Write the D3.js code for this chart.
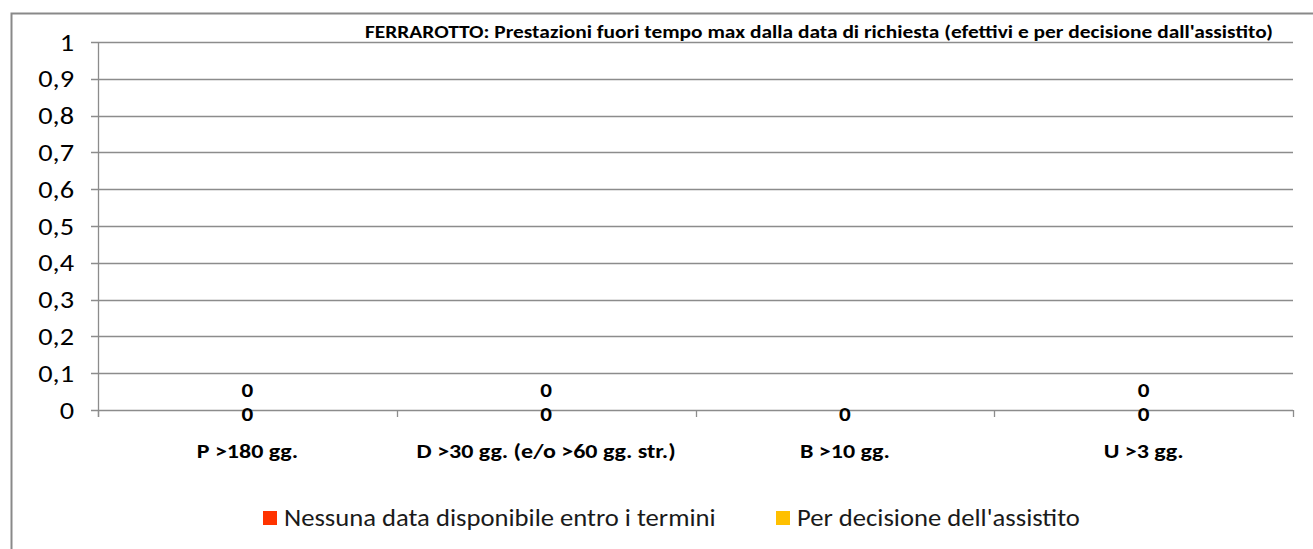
<!DOCTYPE html>
<html>
<head>
<meta charset="utf-8">
<script src="https://d3js.org/d3.v7.min.js"></script>
<style>
  body { margin: 0; background: #fff; }
  svg { display: block; font-family: Carlito, Lato, "Open Sans", sans-serif; }
</style>
</head>
<body>
<svg id="chart" width="1313" height="549"></svg>
<script>
// data
var categories = ["P >180 gg.", "D >30 gg. (e/o >60 gg. str.)", "B >10 gg.", "U >3 gg."];
var seriesNames = ["Nessuna data disponibile entro i termini", "Per decisione dell'assistito"];
var seriesColors = ["#ff3300", "#ffc000"];
var nessunaData = [0, 0, 0, 0];
var perDecisione = [0, 0, null, 0];
var yTicks = [0, 0.1, 0.2, 0.3, 0.4, 0.5, 0.6, 0.7, 0.8, 0.9, 1];
var title = "FERRAROTTO: Prestazioni fuori tempo max dalla data di richiesta (efettivi e per decisione dall'assistito)";

var svg = d3.select("#chart");
var margin = {left: 98, right: 20, top: 42, bottom: 139};
var width = 1313, height = 549;

// text in the original is a bit wider than the local font, so stretch it horizontally
function place(sx) {
  return function(sel) {
    sel.attr("transform", function() {
      var p = this.__pos;
      return "translate(" + p[0] + "," + p[1] + ") scale(" + sx + ",1)";
    });
  };
}
function pos(fx, fy) {
  return function(d, i) { this.__pos = [fx(d, i), fy(d, i)]; };
}

// outer chart frame
svg.append("path")
    .attr("d", "M11.5," + height + "V13.5H" + width)
    .attr("fill", "none")
    .attr("stroke", "#898989")
    .attr("stroke-width", 2);

var x = d3.scaleBand()
    .domain(categories)
    .range([margin.left, width - margin.right])
    .paddingInner(0);

var y = d3.scaleLinear()
    .domain([0, 1])
    .range([height - margin.bottom, margin.top]);

var fmt = function(d) { return String(d).replace(".", ","); };

// gridlines + y ticks
var grid = svg.append("g");
grid.selectAll("line")
  .data(yTicks).enter()
  .append("line")
    .attr("x1", margin.left - 7)
    .attr("x2", width - margin.right)
    .attr("y1", function(d) { return Math.round(y(d)) + 0.5; })
    .attr("y2", function(d) { return Math.round(y(d)) + 0.5; })
    .attr("stroke", "#8c8c8c")
    .attr("stroke-width", 1.3);

grid.selectAll("text")
  .data(yTicks).enter()
  .append("text")
    .each(pos(function() { return 74; }, function(d) { return y(d); }))
    .call(place(1.18))
    .attr("dy", "0.36em")
    .attr("text-anchor", "end")
    .attr("font-size", 24)
    .attr("fill", "#000")
    .text(fmt);

// y axis line
svg.append("line")
    .attr("x1", margin.left + 0.5).attr("x2", margin.left + 0.5)
    .attr("y1", y(1)).attr("y2", y(0) + 7)
    .attr("stroke", "#8c8c8c").attr("stroke-width", 1.3);

// category ticks
var bounds = categories.map(function(c) { return x(c); }).concat([x.range()[1]]);
svg.append("g").selectAll("line")
  .data(bounds).enter()
  .append("line")
    .attr("x1", function(d) { return Math.round(d) + 0.5; })
    .attr("x2", function(d) { return Math.round(d) + 0.5; })
    .attr("y1", y(0)).attr("y2", y(0) + 7)
    .attr("stroke", "#8c8c8c").attr("stroke-width", 1.3);

// category labels
svg.append("g").selectAll("text")
  .data(categories).enter()
  .append("text")
    .each(pos(function(d) { return x(d) + x.bandwidth() / 2; }, function() { return y(0) + 48; }))
    .call(place(1.2))
    .attr("text-anchor", "middle")
    .attr("font-size", 20)
    .attr("font-weight", "bold")
    .text(function(d) { return d; });

// stacked bars (all zero height)
var stackData = categories.map(function(c, i) {
  return {cat: c, a: nessunaData[i], b: perDecisione[i]};
});
var stack = d3.stack().keys(["a", "b"]).value(function(d, k) { return d[k] || 0; });
var layers = stack(stackData);
var barW = x.bandwidth() * 0.4;
svg.append("g").selectAll("g")
  .data(layers).enter()
  .append("g").attr("fill", function(d, i) { return seriesColors[i]; })
  .selectAll("rect")
  .data(function(d) { return d; }).enter()
  .append("rect")
    .attr("x", function(d) { return x(d.data.cat) + (x.bandwidth() - barW) / 2; })
    .attr("width", barW)
    .attr("y", function(d) { return y(d[1]); })
    .attr("height", function(d) { return y(d[0]) - y(d[1]); });

// data labels
var labels = svg.append("g")
    .attr("font-size", 21)
    .attr("font-weight", "bold")
    .attr("text-anchor", "middle");
labels.selectAll("text.s1")
  .data(categories).enter()
  .append("text")
    .attr("class", "s1")
    .each(pos(function(d) { return x(d) + x.bandwidth() / 2; }, function(d, i) { return y(nessunaData[i]) + 11; }))
    .call(place(1.1))
    .text(function(d, i) { return nessunaData[i]; });
labels.selectAll("text.s2")
  .data(categories.filter(function(c, i) { return perDecisione[i] != null; })).enter()
  .append("text")
    .attr("class", "s2")
    .each(pos(function(d) { return x(d) + x.bandwidth() / 2; }, function(d) { return y(perDecisione[categories.indexOf(d)]) - 13; }))
    .call(place(1.1))
    .text(function(d) { return perDecisione[categories.indexOf(d)]; });

// title
svg.append("text")
    .attr("transform", "translate(1273,38) scale(1.26,1)")
    .attr("text-anchor", "end")
    .attr("font-size", 17)
    .attr("font-weight", "bold")
    .text(title);

// legend
var legend = svg.append("g");
var legX = [263, 776];
seriesNames.forEach(function(name, i) {
  legend.append("rect")
      .attr("x", legX[i]).attr("y", 511)
      .attr("width", 14).attr("height", 14)
      .attr("fill", seriesColors[i]);
  legend.append("text")
      .attr("transform", "translate(" + (legX[i] + 21) + ",526) scale(1.11,1)")
      .attr("font-size", 24)
      .attr("fill", "#1a1a1a")
      .text(name);
});
</script>
</body>
</html>
